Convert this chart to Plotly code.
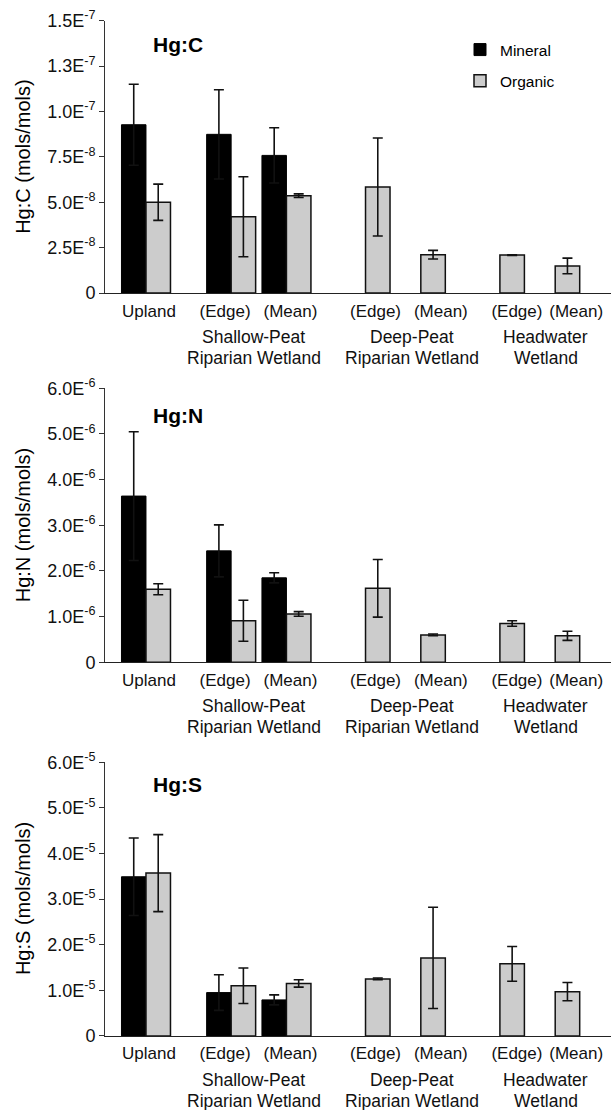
import plotly.graph_objects as go
from plotly.subplots import make_subplots

# ---- data -------------------------------------------------------------
slot_labels = ["Upland", "(Edge)", "(Mean)", "(Edge)", "(Mean)", "(Edge)", "(Mean)"]
slot_group = [0, 1, 1, 2, 2, 3, 3]
group_names = [[], ["Shallow-Peat", "Riparian Wetland"], ["Deep-Peat", "Riparian Wetland"],
               ["Headwater", "Wetland"]]

hgc_mineral = [9.27e-8, 8.74e-8, 7.58e-8, None, None, None, None]
hgc_mineral_err = [2.23e-8, 2.46e-8, 1.52e-8, None, None, None, None]
hgc_organic = [5.00e-8, 4.20e-8, 5.36e-8, 5.84e-8, 2.11e-8, 2.09e-8, 1.49e-8]
hgc_organic_err = [1.00e-8, 2.20e-8, 0.10e-8, 2.70e-8, 0.24e-8, 0.02e-8, 0.43e-8]

hgn_mineral = [3.64e-6, 2.44e-6, 1.85e-6, None, None, None, None]
hgn_mineral_err = [1.41e-6, 0.57e-6, 0.11e-6, None, None, None, None]
hgn_organic = [1.60e-6, 0.91e-6, 1.06e-6, 1.62e-6, 0.60e-6, 0.85e-6, 0.58e-6]
hgn_organic_err = [0.12e-6, 0.45e-6, 0.05e-6, 0.63e-6, 0.02e-6, 0.06e-6, 0.10e-6]

hgs_mineral = [3.49e-5, 0.95e-5, 0.79e-5, None, None, None, None]
hgs_mineral_err = [0.85e-5, 0.39e-5, 0.11e-5, None, None, None, None]
hgs_organic = [3.57e-5, 1.10e-5, 1.15e-5, 1.25e-5, 1.71e-5, 1.58e-5, 0.97e-5]
hgs_organic_err = [0.845e-5, 0.39e-5, 0.08e-5, 0.02e-5, 1.11e-5, 0.38e-5, 0.20e-5]

hgc_ticks = [0, 2.5e-8, 5.0e-8, 7.5e-8, 1.0e-7, 1.25e-7, 1.5e-7]
hgc_ticktext = ["0", "2.5E<sup>-8</sup>", "5.0E<sup>-8</sup>", "7.5E<sup>-8</sup>",
                "1.0E<sup>-7</sup>", "1.3E<sup>-7</sup>", "1.5E<sup>-7</sup>"]
hgn_ticks = [0, 1e-6, 2e-6, 3e-6, 4e-6, 5e-6, 6e-6]
hgn_ticktext = ["0", "1.0E<sup>-6</sup>", "2.0E<sup>-6</sup>", "3.0E<sup>-6</sup>",
                "4.0E<sup>-6</sup>", "5.0E<sup>-6</sup>", "6.0E<sup>-6</sup>"]
hgs_ticks = [0, 1e-5, 2e-5, 3e-5, 4e-5, 5e-5, 6e-5]
hgs_ticktext = ["0", "1.0E<sup>-5</sup>", "2.0E<sup>-5</sup>", "3.0E<sup>-5</sup>",
                "4.0E<sup>-5</sup>", "5.0E<sup>-5</sup>", "6.0E<sup>-5</sup>"]

panels = [
    ("Hg:C", hgc_mineral, hgc_mineral_err, hgc_organic, hgc_organic_err,
     hgc_ticks, hgc_ticktext, 0.914),
    ("Hg:N", hgn_mineral, hgn_mineral_err, hgn_organic, hgn_organic_err,
     hgn_ticks, hgn_ticktext, 0.899),
    ("Hg:S", hgs_mineral, hgs_mineral_err, hgs_organic, hgs_organic_err,
     hgs_ticks, hgs_ticktext, 0.919),
]

# ---- layout helpers --------------------------------------------------
FONT = "Liberation Sans, Arial, Helvetica, sans-serif"
W, H = 611, 1110
group_extra = [0.0, 0.54, 0.97, 1.40]          # extra spacing before each group
xpos = [i + group_extra[g] for i, g in enumerate(slot_group)]
x_range = [-0.741, 8.409]

# vertical pixel extents (top, bottom) of each plotting area
panel_px = [(20.7, 293.0), (388.3, 662.3), (762.3, 1035.9)]
x_left_px, x_right_px = 105.0, 611.0
px_per_unit = (x_right_px - x_left_px) / (x_range[1] - x_range[0])

# label nudges (px) relative to the bar slots, and group-label nudges
slot_label_nudge = [3, -6, 4, 10, 20, 17, 21]
group_label_nudge = [0, -5, 19, 18]
label_pos = [p + n / px_per_unit for p, n in zip(xpos, slot_label_nudge)]
group_pos = {}
for p, g in zip(xpos, slot_group):
    group_pos.setdefault(g, []).append(p)
group_pos = {g: sum(v) / len(v) + group_label_nudge[g] / px_per_unit
             for g, v in group_pos.items()}
group_line_offsets = [44, 65]                   # px below the axis for each label line

fig = make_subplots(rows=3, cols=1)

MINERAL = "#000000"
ORGANIC = "#cccccc"

annotations = []
for r, (name, mv, me, ov, oe, tv, tt, title_y) in enumerate(panels, start=1):
    first = r == 1
    fig.add_trace(go.Bar(
        x=xpos, y=mv, name="Mineral", legendgroup="m", showlegend=first,
        marker=dict(color=MINERAL, line=dict(color="#000000", width=1)),
        error_y=dict(type="data", array=me, visible=True, color="#111111",
                     thickness=1.6, width=5),
    ), row=r, col=1)
    fig.add_trace(go.Bar(
        x=xpos, y=ov, name="Organic", legendgroup="o", showlegend=first,
        marker=dict(color=ORGANIC, line=dict(color="#111111", width=1.5)),
        error_y=dict(type="data", array=oe, visible=True, color="#111111",
                     thickness=1.6, width=5),
    ), row=r, col=1)

    top, bot = panel_px[r - 1]
    dom = [(H - bot) / H, (H - top) / H]
    xa = "xaxis" if r == 1 else f"xaxis{r}"
    ya = "yaxis" if r == 1 else f"yaxis{r}"
    xref = "x" if r == 1 else f"x{r}"
    yref = "y" if r == 1 else f"y{r}"

    fig.layout[ya].update(
        domain=dom, range=[0, tv[-1]], tickvals=tv, ticktext=tt,
        showline=True, linecolor="#333333", linewidth=1,
        ticks="outside", ticklen=5, tickcolor="#333333", tickwidth=1,
        showgrid=False, zeroline=False, automargin=False,
        tickfont=dict(family=FONT, size=18, color="#111111"),
    )
    fig.layout[xa].update(
        domain=[x_left_px / W, x_right_px / W],
        range=x_range, tickvals=label_pos, ticktext=slot_labels,
        showline=True, linecolor="#222222", linewidth=1.2,
        ticks="", showgrid=False, zeroline=False, automargin=False,
        tickangle=0, ticklabelstandoff=2,
        tickfont=dict(family=FONT, size=17, color="#111111"),
    )

    # panel title
    annotations.append(dict(
        text=f"<b>{name}</b>", xref=f"{xref} domain", yref=f"{yref} domain",
        x=(151 - x_left_px) / (x_right_px - x_left_px), y=title_y,
        xanchor="left", yanchor="middle", showarrow=False,
        font=dict(family=FONT, size=21, color="#000000"),
    ))
    # y axis title
    annotations.append(dict(
        text=f"{name} (mols/mols)", xref="paper", yref=f"{yref} domain",
        x=23 / W, y=0.5, xanchor="center", yanchor="middle",
        textangle=-90, showarrow=False,
        font=dict(family=FONT, size=20, color="#000000"),
    ))
    # group labels under the category ticks, one annotation per line
    for g in range(1, len(group_names)):
        for line, off in zip(group_names[g], group_line_offsets):
            annotations.append(dict(
                text=line, xref=xref, yref=yref,
                x=group_pos[g], y=0, xanchor="center", yanchor="middle",
                yshift=-off, showarrow=False,
                font=dict(family=FONT, size=17.5, color="#111111"),
            ))

fig.update_layout(
    template="none",
    width=W, height=H,
    margin=dict(l=0, r=0, t=0, b=0, autoexpand=False),
    paper_bgcolor="white", plot_bgcolor="white",
    barmode="group", bargap=0.114, bargroupgap=0,
    annotations=annotations,
    showlegend=True,
    legend=dict(
        x=460 / W, y=1 - 33 / H, xanchor="left", yanchor="top",
        traceorder="grouped", tracegroupgap=8,
        font=dict(family=FONT, size=15.5, color="#000000"),
        bgcolor="rgba(0,0,0,0)", itemwidth=30,
    ),
)

fig.write_html("out.html")
